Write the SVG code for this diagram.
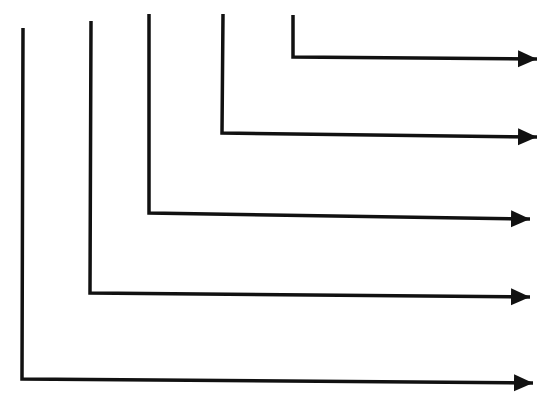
<svg xmlns="http://www.w3.org/2000/svg" width="538" height="401" viewBox="0 0 538 401">
<defs>
<marker id="ah" markerUnits="userSpaceOnUse" markerWidth="20" markerHeight="20" viewBox="0 0 20 20" refX="19" refY="10" orient="auto">
<path d="M0,1.5 L19,10 L0,18.5 Z" fill="#111"/>
</marker>
<style>.c{fill:none;stroke:#111;stroke-width:3.5;stroke-linejoin:miter;marker-end:url(#ah)}</style>
</defs>
<rect width="538" height="401" fill="#fff"/>
<g id="connectors">
<polyline class="c" points="23,28 22,379 533,383"/>
<polyline class="c" points="91,21 90,293 530,297"/>
<polyline class="c" points="149,14 149,213 530,219"/>
<polyline class="c" points="223,14 222,133 537,137"/>
<polyline class="c" points="293,15 293,57 537,59"/>
</g>
</svg>
